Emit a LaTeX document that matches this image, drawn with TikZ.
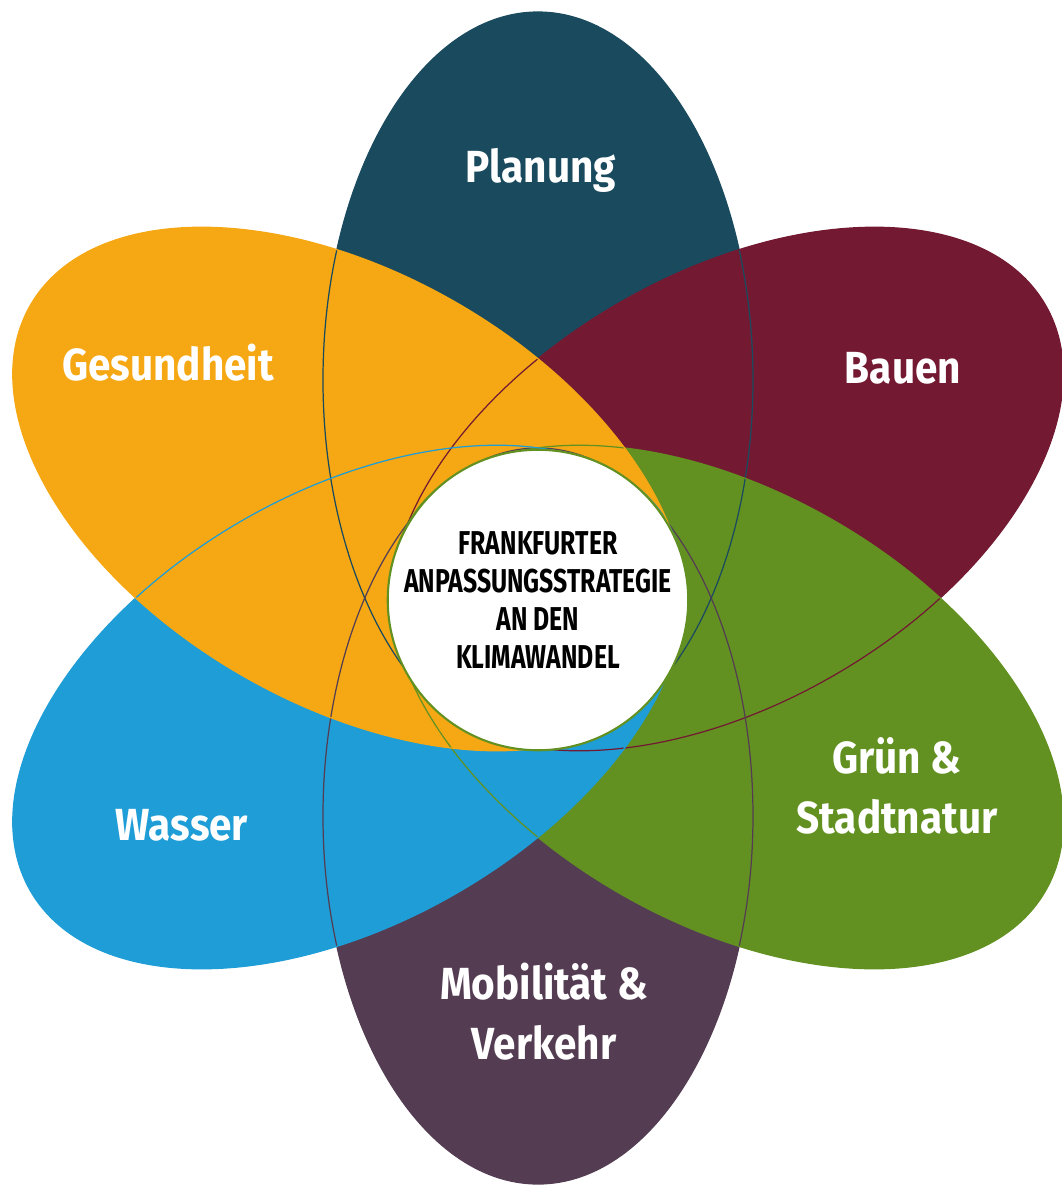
\documentclass[tikz,border=0pt]{standalone}
\usepackage{fontspec}
\newfontfamily\petalfont[FakeStretch=0.9]{Fira Sans}
\newfontfamily\corefont[FakeStretch=0.75]{Fira Sans}

\definecolor{tealdark}{HTML}{1A4A5E}
\definecolor{wine}{HTML}{731A32}
\definecolor{plum}{HTML}{543D52}
\definecolor{leaf}{HTML}{629122}
\definecolor{sky}{HTML}{1E9DD6}
\definecolor{amber}{HTML}{F5A814}

\tikzset{
	petal/.style={fill=#1},
	rim/.style={draw=#1, line width=0.35pt},
	petaltext/.style={text=white, anchor=base, align=center,
		font=\petalfont\bfseries\fontsize{12.8}{17}\selectfont},
	core/.style={circle, fill=white, draw=leaf, line width=0.6pt,
		minimum size=2.96cm, inner sep=0pt, align=center,
		font=\corefont\bfseries\fontsize{9.4}{10.8}\selectfont}
}

\begin{document}
\begin{tikzpicture}
	%%%%% START %%%%%
	\useasboundingbox (-5.38, -5.87) rectangle (5.23, 5.98);
	
	% petals, bottom one first
	\fill[petal=tealdark] (0, 2.18) ellipse (2.15 and 3.68);
	\fill[petal=wine, rotate=-60] (0, 2.18) ellipse (2.15 and 3.68);
	\fill[petal=plum, rotate=180] (0, 2.18) ellipse (2.15 and 3.68);
	\fill[petal=leaf, rotate=-120] (0, 2.18) ellipse (2.15 and 3.68);
	\fill[petal=sky, rotate=120] (0, 2.18) ellipse (2.15 and 3.68);
	\fill[petal=amber, rotate=60] (0, 2.18) ellipse (2.15 and 3.68);
	
	% thin outlines over all fills
	\draw[rim=tealdark] (0, 2.18) ellipse (2.15 and 3.68);
	\draw[rim=wine, rotate=-60] (0, 2.18) ellipse (2.15 and 3.68);
	\draw[rim=plum, rotate=180] (0, 2.18) ellipse (2.15 and 3.68);
	\draw[rim=leaf, rotate=-120] (0, 2.18) ellipse (2.15 and 3.68);
	\draw[rim=sky, rotate=120] (0, 2.18) ellipse (2.15 and 3.68);
	\draw[rim=amber, rotate=60] (0, 2.18) ellipse (2.15 and 3.68);
	
	\node[core] (core) at (0, -0.02) {FRANKFURTER\\ANPASSUNGSSTRATEGIE\\AN DEN\\KLIMAWANDEL};
	
	% two-line labels sit on the baseline of their last line
	\node[petaltext] (planung) at (0.03, 4.16) {Planung};
	\node[petaltext] (gesund) at (-3.70, 2.18) {Gesundheit};
	\node[petaltext] (bauen) at (3.65, 2.15) {Bauen};
	\node[petaltext] (wasser) at (-3.56, -2.42) {Wasser};
	\node[petaltext] (gruen) at (3.59, -2.35) {Grün \&\\Stadtnatur};
	\node[petaltext] (mobil) at (0.06, -4.61) {Mobilität \&\\Verkehr};
	
	%%%%% END %%%%%
\end{tikzpicture}
\end{document}
